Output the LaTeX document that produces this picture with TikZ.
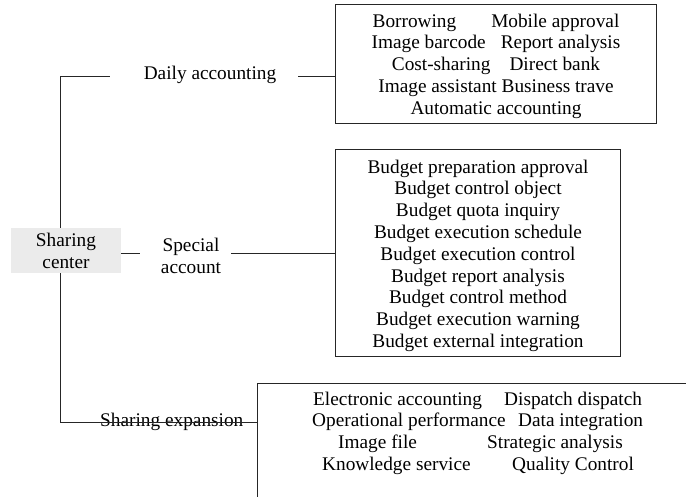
\documentclass[tikz,border=0pt]{standalone}
\usepackage{fontspec}
\setmainfont{Liberation Serif}
\begin{document}
\begin{tikzpicture}[x=1bp,y=-1bp,
  every node/.style={font=\fontsize{19.3bp}{21.8bp}\selectfont, inner sep=0pt},
  conn/.style={line width=1bp, draw=black!85},
  boxst/.style={draw=black!85, line width=1bp},
  centerbox/.style={fill=black!8, minimum width=110bp, minimum height=45bp, align=center}]
\useasboundingbox (0,0) rectangle (686,497);
% central node
\node[centerbox] (center) at (66,250.5) {Sharing\\center};
% branch labels
\node[anchor=base] (daily) at (210,80) {Daily accounting};
\node[align=center] (special) at (191,256) {Special\\account};
\node[anchor=base west] (expansion) at (100,426) {Sharing expansion};
% boxes
\node[boxst, minimum width=321bp, minimum height=119bp] (b1) at (495.5,64.5) {};
\node[align=center] (t1) at (496,66) {Borrowing\hspace{35bp}Mobile approval\\
Image barcode\hspace{15bp}Report analysis\\
Cost-sharing\hspace{19bp}Direct bank\\
Image assistant Business trave\\
Automatic accounting};
\node[boxst, minimum width=285bp, minimum height=206bp] (b2) at (477.5,253) {};
\node[align=center] (t2) at (478,255.6) {Budget preparation approval\\
Budget control object\\
Budget quota inquiry\\
Budget execution schedule\\
Budget execution control\\
Budget report analysis\\
Budget control method\\
Budget execution warning\\
Budget external integration};
% third (open) box
\coordinate (b3) at (257,383);
\coordinate (b3ne) at (686,383);
\coordinate (b3sw) at (257,497);
\draw[conn] (b3ne) -- (b3) -- (b3sw);
\node[anchor=base west] (e1) at (313,405) {Electronic accounting};
\node[anchor=base west] (e2) at (504,405) {Dispatch dispatch};
\node[anchor=base west] (e3) at (312,426.5) {Operational performance};
\node[anchor=base west] (e4) at (518,426.5) {Data integration};
\node[anchor=base west] (e5) at (338,448) {Image file};
\node[anchor=base west] (e6) at (487,448) {Strategic analysis};
\node[anchor=base west] (e7) at (322,470) {Knowledge service};
\node[anchor=base west] (e8) at (512,470) {Quality Control};
% connectors
\coordinate (tt) at (60,77);
\coordinate (tb) at (60,422);
\coordinate (dl) at (110,77);
\coordinate (dr) at (298,77);
\coordinate (sl) at (140,253);
\coordinate (sr) at (231,253);
\draw[conn] (center.north -| tt) -- (tt) -- (dl);
\draw[conn] (dr) -- (dr -| b1.west);
\draw[conn] (center.east |- sl) -- (sl);
\draw[conn] (sr) -- (sr -| b2.west);
\draw[conn] (center.south -| tt) -- (tb) -- (tb -| b3);
\end{tikzpicture}
\end{document}
